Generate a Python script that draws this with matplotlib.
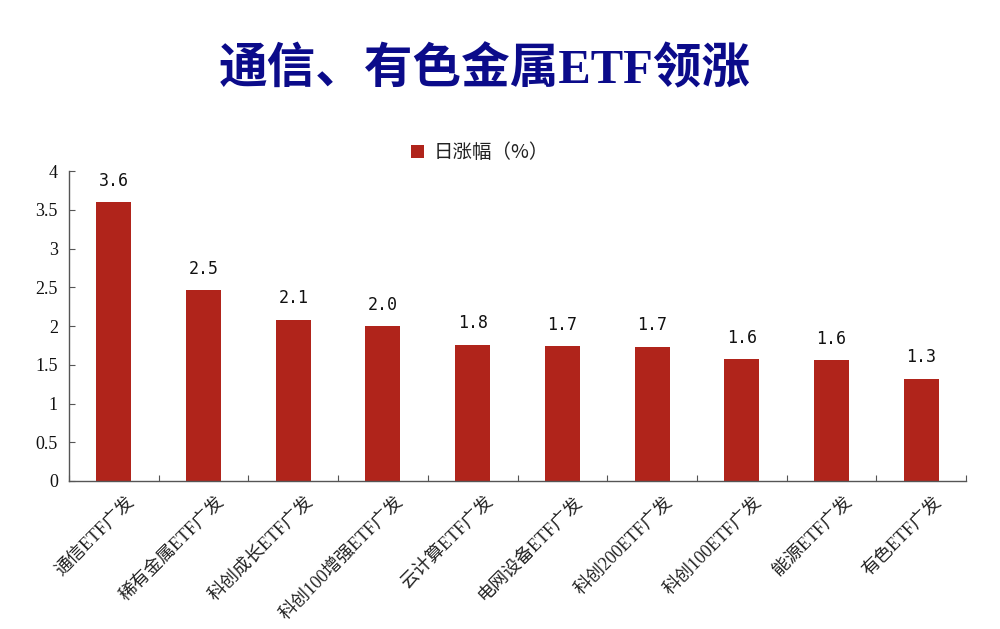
import matplotlib
matplotlib.use("Agg")
import matplotlib.pyplot as plt
import numpy as np
from matplotlib.ticker import FixedLocator
from matplotlib.transforms import ScaledTranslation

categories = ["通信ETF广发", "稀有金属ETF广发", "科创成长ETF广发", "科创100增强ETF广发",
              "云计算ETF广发", "电网设备ETF广发", "科创200ETF广发", "科创100ETF广发",
              "能源ETF广发", "有色ETF广发"]
values = [3.60, 2.46, 2.08, 2.00, 1.76, 1.74, 1.73, 1.57, 1.56, 1.32]
yticks = [0, 0.5, 1, 1.5, 2, 2.5, 3, 3.5, 4]
ytick_labels = ["0", "0.5", "1", "1.5", "2", "2.5", "3", "3.5", "4"]
title = "通信、有色金属ETF领涨"
series_name = "日涨幅（%）"

plt.rcParams['font.family'] = ['Noto Sans CJK SC', 'DejaVu Sans']

fig = plt.figure(figsize=(10, 6.29), dpi=100)
ax = fig.add_axes([0.069, 0.2353, 0.897, 0.4928])

bar_color = "#B0241B"
x = np.arange(len(categories))
bars = ax.bar(x, values, width=0.39, color=bar_color, label=series_name, zorder=2)

for xi, v in zip(x, values):
    ax.annotate(f"{v:.1f}", (xi, v), xytext=(0, 9), textcoords="offset points",
                ha="center", va="bottom", fontsize=12, color="#111111",
                family=['DejaVu Sans Mono'])

ax.set_xlim(-0.5, len(categories) - 0.5)
ax.set_ylim(0, 4)
ax.set_yticks(yticks)
ax.set_yticklabels(ytick_labels, family=['Liberation Serif'], fontsize=13)
ax.tick_params(axis='y', direction='in', length=4, width=0.8, colors='#555555',
               labelcolor='#111111', pad=8)

ax.set_xticks(x)
ax.set_xticklabels(categories, rotation=45, ha='right', va='top', rotation_mode='anchor',
                   family=['Liberation Serif', 'Noto Sans CJK SC'], fontsize=13,
                   color='#222222')
ax.tick_params(axis='x', which='major', length=0, pad=9)
ax.xaxis.set_minor_locator(FixedLocator(np.arange(-0.5, len(categories), 1.0)))
ax.tick_params(axis='x', which='minor', direction='in', length=4, width=0.8, colors='#555555')
offset = ScaledTranslation(12 / 100, 0, fig.dpi_scale_trans)
for lab in ax.get_xticklabels():
    lab.set_transform(lab.get_transform() + offset)

for s in ['top', 'right']:
    ax.spines[s].set_visible(False)
for s in ['left', 'bottom']:
    ax.spines[s].set_color('#555555')
    ax.spines[s].set_linewidth(1.0)

fig.text(0.485, 0.889, title, ha='center', va='center', fontsize=35, fontweight='bold',
         color='#0B0B8A', family=['Liberation Serif', 'Noto Sans CJK SC'])

leg = fig.legend(handles=[bars], labels=[series_name], loc='center', bbox_to_anchor=(0.48, 0.757),
                 frameon=False, fontsize=14, handlelength=0.7, handleheight=0.7,
                 handletextpad=0.5)
for t in leg.get_texts():
    t.set_color('#222222')

fig.savefig("out.png", dpi=100, facecolor='white')
